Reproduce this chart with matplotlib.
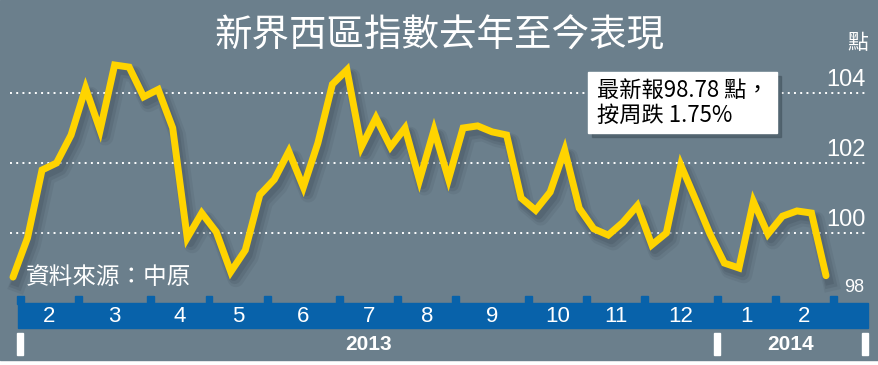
import matplotlib.pyplot as plt
from matplotlib.patches import Rectangle
import matplotlib.transforms as mtransforms
import numpy as np

# weekly index values, Feb 2013 - Feb 2014
values = [98.74, 99.86, 101.8, 102.0, 102.8, 104.14, 102.94, 104.8, 104.74, 103.89,
          104.1, 103.0, 99.86, 100.57, 100.03, 98.89, 99.51, 101.09, 101.53, 102.33,
          101.31, 102.57, 104.25, 104.66, 102.46, 103.29, 102.46, 103.0, 101.51, 102.94,
          101.54, 103.0, 103.06, 102.89, 102.8, 101.0, 100.65, 101.17, 102.37, 100.71,
          100.12, 99.94, 100.3, 100.78, 99.66, 100.0, 101.94, 100.97, 99.98, 99.14,
          99.0, 100.9, 99.97, 100.48, 100.63, 100.57, 98.78]
months = ['2', '3', '4', '5', '6', '7', '8', '9', '10', '11', '12', '1', '2']
month_weeks = [4, 5, 4, 4, 5, 4, 4, 5, 4, 4, 5, 4, 4]
years = ['2013', '2014']
grid_levels = [100, 102, 104]
title = '新界西區指數去年至今表現'
note = '最新報98.78 點，\n按周跌 1.75%'
source = '資料來源：中原'
unit = '點'

bg = '#6b7f8c'
yellow = '#ffd400'
blue = '#0862aa'
cjk = ['Noto Sans CJK TC', 'DejaVu Sans']
arial = ['Liberation Sans', 'DejaVu Sans']

W, H = 879, 365
x0, dx = 13, 14.518   # pixel of first week, pixels per week
y98, dy = 303, 35     # pixel row of 98, pixels per point


def xd(px):
    return (px - x0) / dx


def fy(px):
    return 1 - px / H


fig = plt.figure(figsize=(W / 100, H / 100), dpi=100)
fig.patch.set_facecolor('white')
ax = fig.add_axes([0, 0, 1, 1])
ax.set_xlim(xd(0), xd(W))
ax.set_ylim(98 - (H - y98) / dy, 98 + y98 / dy)
ax.axis('off')
trans = mtransforms.blended_transform_factory(ax.transData, ax.transAxes)

ax.add_patch(Rectangle((0, fy(360)), 1, 1 - fy(360), transform=ax.transAxes,
                       color=bg, zorder=0))

# dotted grid
for g in grid_levels:
    ax.plot([xd(10), xd(868)], [g, g], color='white', lw=1.4,
            ls=(0, (1, 2.2)), zorder=1)

# line with soft shadow
x = np.arange(len(values))
for ox, oy, lw, a in [(5, -7, 12, 0.12), (4, -6, 9, 0.18), (3, -5, 6, 0.22)]:
    tr = mtransforms.offset_copy(ax.transData, fig=fig, x=ox, y=oy, units='dots')
    ax.plot(x, values, color='#3b4954', lw=lw, alpha=a, transform=tr,
            solid_joinstyle='round', zorder=2)
ax.plot(x, values, color=yellow, lw=5, solid_joinstyle='miter',
        solid_capstyle='round', zorder=3)

# right-hand labels
for g in grid_levels:
    ax.text(xd(866), g + 13 / dy, str(g), ha='right', va='center', color='white',
            fontsize=17, family=arial, zorder=4)
ax.text(xd(864), 98 + 16 / dy, '98', ha='right', va='center', color='white',
        fontsize=13, family=arial, zorder=4)
ax.text(xd(868), fy(43), unit, ha='right', va='center', color='white',
        fontsize=15, family=cjk, transform=trans, zorder=4)

# title
ax.text(0.5, fy(36), title, ha='center', va='center', color='white',
        fontsize=27, family=cjk, transform=ax.transAxes, zorder=4)

# note box
ax.add_patch(Rectangle((xd(592), fy(137)), xd(781) - xd(592), fy(76) - fy(137),
                       transform=trans, color='#44545f', alpha=0.6, zorder=4))
ax.add_patch(Rectangle((xd(588), fy(133)), xd(777) - xd(588), fy(72) - fy(133),
                       transform=trans, color='white', zorder=5))
ax.text(xd(597), fy(103), note, ha='left', va='center', color='black',
        fontsize=16, family=cjk, linespacing=1.15, transform=trans, zorder=6)

# source
ax.text(xd(26), fy(277), source, ha='left', va='center', color='white',
        fontsize=17, family=cjk, weight='light', transform=trans, zorder=6)

# month bar
bounds = 0.5 + np.concatenate([[0], np.cumsum(month_weeks)])
bar_l, bar_r = xd(18), xd(868)
ax.add_patch(Rectangle((bar_l, fy(328)), bar_r - bar_l, fy(303) - fy(328),
                       transform=trans, color=blue, zorder=4))
for b in bounds:
    ax.add_patch(Rectangle((b - 0.24, fy(304)), 0.48, fy(296) - fy(304),
                           transform=trans, color=blue, zorder=4))
centers = (bounds[:-1] + bounds[1:]) / 2
for c, m in zip(centers, months):
    ax.text(c, fy(316), m, ha='center', va='center', color='white',
            fontsize=16, family=arial, transform=trans, zorder=5)

# year dividers and labels
jan = months.index('1')
edges = [bounds[0], bounds[jan], xd(865)]
for e in edges:
    ax.add_patch(Rectangle((e - 0.22, fy(355)), 0.44, fy(333) - fy(355),
                           transform=trans, color='white', zorder=4))
for i, yr in enumerate(years):
    ax.text((edges[i] + edges[i + 1]) / 2, fy(344), yr, ha='center', va='center',
            color='white', fontsize=15, weight='bold', family=arial,
            transform=trans, zorder=5)

fig.savefig('out.png', dpi=100, facecolor=fig.get_facecolor())
